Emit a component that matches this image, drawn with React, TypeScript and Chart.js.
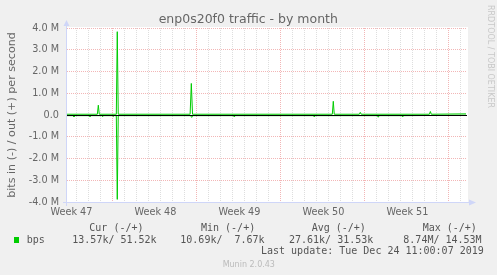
import React, { useEffect, useRef } from "react";
import { Chart, registerables } from "chart.js";

Chart.register(...registerables);

// ---- texts ----
const title = "enp0s20f0 traffic - by month";
const yAxisTitle = "bits in (-) / out (+) per second";
const watermark = "RRDTOOL / TOBI OETIKER";
const footer = "Munin 2.0.43";
const lastUpdate = "Last update: Tue Dec 24 11:00:07 2019";

// ---- time axis: days since the left edge of the graph ----
const rangeDays = 33.333;
const weekLabels = ["Week 47", "Week 48", "Week 49", "Week 50", "Week 51"];
const weekStartDays = [-3.23, 3.77, 10.77, 17.77, 24.77, 31.77];

// ---- value axis (Mbps) ----
const yTickMbps = [-4, -3.5, -3, -2.5, -2, -1.5, -1, -0.5, 0, 0.5, 1, 1.5, 2, 2.5, 3, 3.5, 4];

// ---- series: out (+) ----
const outDays = [0, 2.53, 2.61, 2.69, 4.11, 4.19, 4.27, 10.26, 10.36, 10.46, 22.11, 22.19, 22.27, 24.36, 24.44, 24.52, 30.2, 30.28, 30.36, 33.25];
const outBps = [35000, 35000, 450000, 35000, 35000, 3830000, 35000, 35000, 1450000, 35000, 35000, 630000, 35000, 35000, 120000, 35000, 35000, 160000, 35000, 51520];

// ---- series: in (-) ----
const inDays = [0, 0.5, 0.58, 0.66, 1.84, 1.92, 2.0, 2.89, 2.97, 3.05, 3.78, 3.86, 3.94, 4.11, 4.19, 4.27, 10.3, 10.39, 10.48, 13.86, 13.94, 14.02, 20.53, 20.61, 20.69, 25.86, 25.94, 26.02, 27.89, 27.97, 28.05, 33.25];
const inBps = [-30000, -30000, -90000, -30000, -30000, -90000, -30000, -30000, -80000, -30000, -30000, -70000, -30000, -30000, -3880000, -30000, -30000, -110000, -30000, -30000, -90000, -30000, -30000, -90000, -30000, -30000, -100000, -30000, -30000, -90000, -30000, -13570];

// ---- legend ----
const seriesName = "bps";
const legendHeaders = ["Cur (-/+)", "Min (-/+)", "Avg (-/+)", "Max (-/+)"];
const legendValues = ["13.57k/ 51.52k", "10.69k/  7.67k", "27.61k/ 31.53k", " 8.74M/ 14.53M"];

// layout constants
const GREEN = "#00cc00";
const MAJOR = "#f2b6b6";
const MINOR = "#dedede";
const AXIS = "#CFD6F8";
const FONT = "#666666";
const headerX = [89.3, 201, 311.7, 422.7];
const valueX = [72.3, 180.3, 289, 397.3];

type XT = { value: number; label: string; kind: "major" | "minor" | "label" };

function buildXTicks(): XT[] {
  const out: XT[] = [];
  const first = weekStartDays[0];
  for (let i = 0; first + i <= rangeDays; i++) {
    const v = first + i;
    if (v < 0) continue;
    out.push({ value: v, label: "", kind: i % 7 === 0 ? "major" : "minor" });
  }
  weekLabels.forEach((l, k) => {
    out.push({ value: weekStartDays[k] + 3.6, label: l, kind: "label" });
  });
  return out;
}

function fmtM(v: number): string {
  const m = v / 1e6;
  if (m === 0) return "0.0";
  return m.toFixed(1) + " M";
}

export default function App() {
  const ref = useRef<HTMLCanvasElement>(null);

  useEffect(() => {
    const canvas = ref.current;
    if (!canvas) return;
    const xTicks = buildXTicks();

    const rrdPlugin = {
      id: "rrd",
      beforeDraw(chart: any) {
        const { ctx, chartArea: a, width, height } = chart;
        ctx.save();
        ctx.fillStyle = "#f0f0f0";
        ctx.fillRect(0, 0, width, height);
        ctx.fillStyle = "#ffffff";
        ctx.fillRect(a.left, a.top - 1, a.right - a.left + 1, a.bottom - a.top + 1);
        ctx.restore();
      },
      afterDatasetsDraw(chart: any) {
        const { ctx, chartArea: a, scales } = chart;
        const y0 = scales.y.getPixelForValue(0);
        ctx.save();
        ctx.fillStyle = "#000000";
        ctx.fillRect(a.left, Math.round(y0), a.right - a.left, 1);
        ctx.fillStyle = AXIS;
        ctx.fillRect(a.left - 4, a.bottom, a.right - a.left + 6, 1);
        ctx.fillRect(a.left - 1, a.top - 3, 1, a.bottom - a.top + 7);
        ctx.beginPath();
        ctx.moveTo(a.right + 2, a.bottom - 2.5);
        ctx.lineTo(a.right + 2, a.bottom + 3.5);
        ctx.lineTo(a.right + 9, a.bottom + 0.5);
        ctx.closePath();
        ctx.fill();
        ctx.beginPath();
        ctx.moveTo(a.left - 3.5, a.top - 2);
        ctx.lineTo(a.left + 2.5, a.top - 2);
        ctx.lineTo(a.left - 0.5, a.top - 8);
        ctx.closePath();
        ctx.fill();
        ctx.restore();
      },
      afterDraw(chart: any) {
        const { ctx, chartArea: a } = chart;
        ctx.save();
        ctx.fillStyle = FONT;
        ctx.textBaseline = "alphabetic";
        ctx.textAlign = "center";
        ctx.font = "12.5px 'DejaVu Sans'";
        ctx.fillText(title, 248.3, 23);

        ctx.save();
        ctx.translate(14.5, (a.top + a.bottom) / 2);
        ctx.rotate(-Math.PI / 2);
        ctx.font = "11.1px 'DejaVu Sans'";
        ctx.fillText(yAxisTitle, 0, 0);
        ctx.restore();

        ctx.save();
        ctx.translate(488, 5);
        ctx.rotate(Math.PI / 2);
        ctx.textAlign = "left";
        ctx.font = "8px 'DejaVu Sans'";
        ctx.fillStyle = "#c8c8c8";
        ctx.fillText(watermark, 0, 0);
        ctx.restore();

        ctx.textAlign = "left";
        ctx.font = "10px 'DejaVu Sans Mono'";
        ctx.fillStyle = "#555555";
        legendHeaders.forEach((h, i) => ctx.fillText(h, headerX[i], 230.5));
        ctx.fillStyle = GREEN;
        ctx.fillRect(14, 237, 5, 6);
        ctx.fillStyle = "#555555";
        ctx.fillText(seriesName, 26.7, 242.5);
        legendValues.forEach((v, i) => ctx.fillText(v, valueX[i], 242.5));
        ctx.fillText(lastUpdate, 261, 254.3);

        ctx.textAlign = "center";
        ctx.font = "8px 'DejaVu Sans'";
        ctx.fillStyle = "#bbbbbb";
        ctx.fillText(footer, 248.8, 266.8);
        ctx.restore();
      },
    };

    const chart = new Chart(canvas, {
      type: "line",
      data: {
        datasets: [
          {
            label: "out",
            data: outDays.map((d, i) => ({ x: d, y: outBps[i] })),
            borderColor: GREEN,
            borderWidth: 1,
            pointRadius: 0,
            tension: 0,
            fill: false,
          },
          {
            label: "in",
            data: inDays.map((d, i) => ({ x: d, y: inBps[i] })),
            borderColor: GREEN,
            borderWidth: 1,
            pointRadius: 0,
            tension: 0,
            fill: false,
          },
        ],
      },
      plugins: [rrdPlugin as any],
      options: {
        animation: false,
        responsive: false,
        devicePixelRatio: 1,
        events: [],
        layout: { padding: { left: 0, right: 30, top: 28, bottom: 53 } },
        plugins: {
          legend: { display: false },
          title: { display: false },
          tooltip: { enabled: false },
        },
        scales: {
          x: {
            type: "linear",
            min: 0,
            max: rangeDays,
            afterBuildTicks: (scale: any) => {
              scale.ticks = xTicks.map((t) => ({ value: t.value }));
            },
            afterFit: (scale: any) => {
              scale.height = 20;
            },
            ticks: {
              autoSkip: false,
              maxRotation: 0,
              minRotation: 0,
              padding: 5,
              color: FONT,
              font: { family: "'DejaVu Sans'", size: 9.7 },
              callback: (_v: any, i: number) => (xTicks[i] ? xTicks[i].label : ""),
            },
            grid: {
              drawTicks: false,
              lineWidth: 1,
              color: (c: any) => {
                const t = xTicks[c.index];
                if (!t || t.kind === "label") return "rgba(0,0,0,0)";
                return t.kind === "major" ? MAJOR : MINOR;
              },
            },
            border: { display: false, dash: [1, 1] },
          },
          y: {
            type: "linear",
            min: -4e6,
            max: 4e6,
            afterBuildTicks: (scale: any) => {
              scale.ticks = yTickMbps.map((m) => ({ value: m * 1e6 }));
            },
            afterFit: (scale: any) => {
              scale.width = 67;
            },
            ticks: {
              padding: 8,
              color: FONT,
              font: { family: "'DejaVu Sans'", size: 9.7 },
              callback: (v: any) => (Number.isInteger(Number(v) / 1e6) ? fmtM(Number(v)) : ""),
            },
            grid: {
              drawTicks: false,
              lineWidth: 1,
              color: (c: any) => (c.tick && Number.isInteger(c.tick.value / 1e6) ? MAJOR : MINOR),
            },
            border: { display: false, dash: [1, 1] },
          },
        },
      },
    } as any);

    return () => chart.destroy();
  }, []);

  return (
    <div style={{ position: "fixed", left: 0, top: 0, width: 497, height: 275, background: "#f0f0f0" }}>
      <canvas ref={ref} width={497} height={275} style={{ display: "block", width: 497, height: 275 }} />
    </div>
  );
}
